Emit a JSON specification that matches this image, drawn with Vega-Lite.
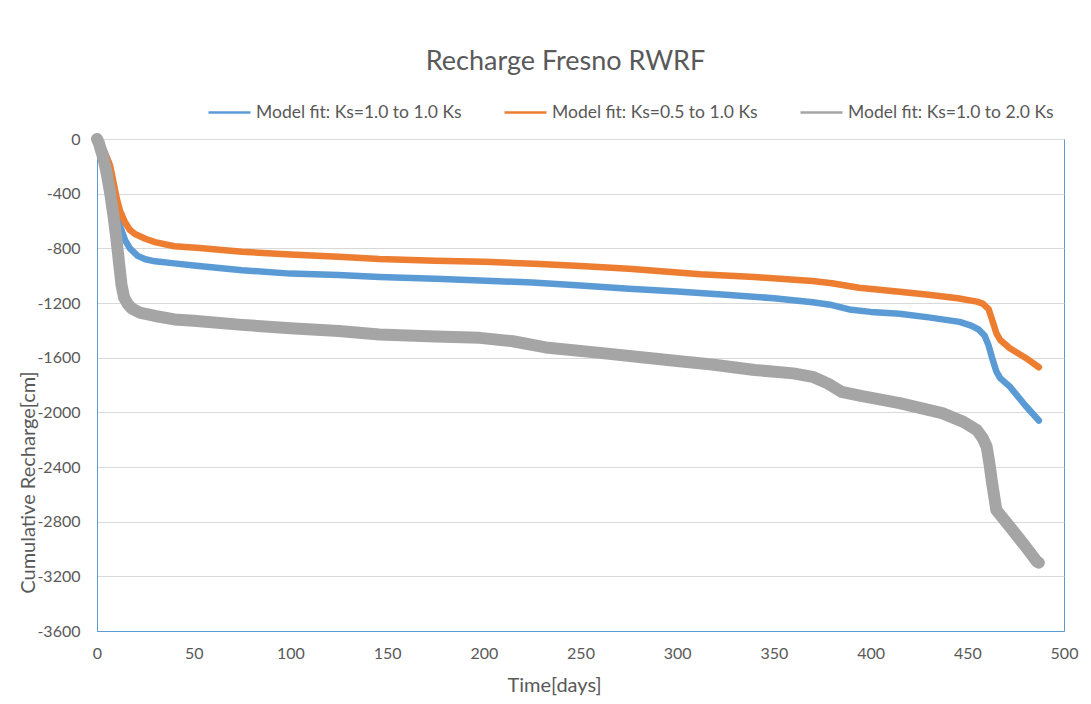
{
  "$schema": "https://vega.github.io/schema/vega-lite/v6.json",
  "width": 967,
  "height": 492,
  "autosize": "none",
  "padding": {"left": 97, "top": 139, "right": 27, "bottom": 73},
  "background": "white",
  "title": {
    "text": "Recharge Fresno RWRF",
    "font": "Lato",
    "fontSize": 27,
    "fontWeight": "normal",
    "color": "#595959",
    "anchor": "middle",
    "dx": -15,
    "offset": 14
  },
  "data": {
    "values": [
      {"s": "Model fit: Ks=1.0 to 1.0 Ks", "t": 0, "v": 0},
      {"s": "Model fit: Ks=1.0 to 1.0 Ks", "t": 2, "v": -40},
      {"s": "Model fit: Ks=1.0 to 1.0 Ks", "t": 4, "v": -100},
      {"s": "Model fit: Ks=1.0 to 1.0 Ks", "t": 6, "v": -170},
      {"s": "Model fit: Ks=1.0 to 1.0 Ks", "t": 8, "v": -300},
      {"s": "Model fit: Ks=1.0 to 1.0 Ks", "t": 10, "v": -480},
      {"s": "Model fit: Ks=1.0 to 1.0 Ks", "t": 11, "v": -555},
      {"s": "Model fit: Ks=1.0 to 1.0 Ks", "t": 12, "v": -640},
      {"s": "Model fit: Ks=1.0 to 1.0 Ks", "t": 14.5, "v": -740},
      {"s": "Model fit: Ks=1.0 to 1.0 Ks", "t": 17, "v": -800},
      {"s": "Model fit: Ks=1.0 to 1.0 Ks", "t": 21, "v": -855},
      {"s": "Model fit: Ks=1.0 to 1.0 Ks", "t": 25, "v": -880},
      {"s": "Model fit: Ks=1.0 to 1.0 Ks", "t": 30, "v": -895},
      {"s": "Model fit: Ks=1.0 to 1.0 Ks", "t": 40, "v": -910},
      {"s": "Model fit: Ks=1.0 to 1.0 Ks", "t": 50, "v": -925},
      {"s": "Model fit: Ks=1.0 to 1.0 Ks", "t": 75, "v": -960},
      {"s": "Model fit: Ks=1.0 to 1.0 Ks", "t": 100, "v": -985},
      {"s": "Model fit: Ks=1.0 to 1.0 Ks", "t": 125, "v": -995},
      {"s": "Model fit: Ks=1.0 to 1.0 Ks", "t": 146, "v": -1010},
      {"s": "Model fit: Ks=1.0 to 1.0 Ks", "t": 175, "v": -1022},
      {"s": "Model fit: Ks=1.0 to 1.0 Ks", "t": 198, "v": -1035},
      {"s": "Model fit: Ks=1.0 to 1.0 Ks", "t": 225, "v": -1050},
      {"s": "Model fit: Ks=1.0 to 1.0 Ks", "t": 250, "v": -1072},
      {"s": "Model fit: Ks=1.0 to 1.0 Ks", "t": 275, "v": -1095},
      {"s": "Model fit: Ks=1.0 to 1.0 Ks", "t": 300, "v": -1115},
      {"s": "Model fit: Ks=1.0 to 1.0 Ks", "t": 325, "v": -1140},
      {"s": "Model fit: Ks=1.0 to 1.0 Ks", "t": 350, "v": -1165},
      {"s": "Model fit: Ks=1.0 to 1.0 Ks", "t": 370, "v": -1195},
      {"s": "Model fit: Ks=1.0 to 1.0 Ks", "t": 380, "v": -1215},
      {"s": "Model fit: Ks=1.0 to 1.0 Ks", "t": 390, "v": -1250},
      {"s": "Model fit: Ks=1.0 to 1.0 Ks", "t": 400, "v": -1265},
      {"s": "Model fit: Ks=1.0 to 1.0 Ks", "t": 415, "v": -1278},
      {"s": "Model fit: Ks=1.0 to 1.0 Ks", "t": 430, "v": -1305},
      {"s": "Model fit: Ks=1.0 to 1.0 Ks", "t": 446, "v": -1338},
      {"s": "Model fit: Ks=1.0 to 1.0 Ks", "t": 452, "v": -1365},
      {"s": "Model fit: Ks=1.0 to 1.0 Ks", "t": 456, "v": -1395},
      {"s": "Model fit: Ks=1.0 to 1.0 Ks", "t": 459, "v": -1440},
      {"s": "Model fit: Ks=1.0 to 1.0 Ks", "t": 461, "v": -1510},
      {"s": "Model fit: Ks=1.0 to 1.0 Ks", "t": 463, "v": -1610},
      {"s": "Model fit: Ks=1.0 to 1.0 Ks", "t": 465, "v": -1700},
      {"s": "Model fit: Ks=1.0 to 1.0 Ks", "t": 467, "v": -1750},
      {"s": "Model fit: Ks=1.0 to 1.0 Ks", "t": 472, "v": -1812},
      {"s": "Model fit: Ks=1.0 to 1.0 Ks", "t": 480, "v": -1950},
      {"s": "Model fit: Ks=1.0 to 1.0 Ks", "t": 487, "v": -2060},
      {"s": "Model fit: Ks=0.5 to 1.0 Ks", "t": 0, "v": 0},
      {"s": "Model fit: Ks=0.5 to 1.0 Ks", "t": 2, "v": -40},
      {"s": "Model fit: Ks=0.5 to 1.0 Ks", "t": 4, "v": -100},
      {"s": "Model fit: Ks=0.5 to 1.0 Ks", "t": 6.7, "v": -190},
      {"s": "Model fit: Ks=0.5 to 1.0 Ks", "t": 8, "v": -280},
      {"s": "Model fit: Ks=0.5 to 1.0 Ks", "t": 10.2, "v": -435},
      {"s": "Model fit: Ks=0.5 to 1.0 Ks", "t": 12, "v": -530},
      {"s": "Model fit: Ks=0.5 to 1.0 Ks", "t": 14.5, "v": -610},
      {"s": "Model fit: Ks=0.5 to 1.0 Ks", "t": 17, "v": -665},
      {"s": "Model fit: Ks=0.5 to 1.0 Ks", "t": 19.6, "v": -695},
      {"s": "Model fit: Ks=0.5 to 1.0 Ks", "t": 25, "v": -730},
      {"s": "Model fit: Ks=0.5 to 1.0 Ks", "t": 30, "v": -755},
      {"s": "Model fit: Ks=0.5 to 1.0 Ks", "t": 40, "v": -785},
      {"s": "Model fit: Ks=0.5 to 1.0 Ks", "t": 53, "v": -798},
      {"s": "Model fit: Ks=0.5 to 1.0 Ks", "t": 75, "v": -825},
      {"s": "Model fit: Ks=0.5 to 1.0 Ks", "t": 100, "v": -845},
      {"s": "Model fit: Ks=0.5 to 1.0 Ks", "t": 125, "v": -862},
      {"s": "Model fit: Ks=0.5 to 1.0 Ks", "t": 146, "v": -878},
      {"s": "Model fit: Ks=0.5 to 1.0 Ks", "t": 175, "v": -890},
      {"s": "Model fit: Ks=0.5 to 1.0 Ks", "t": 200, "v": -898},
      {"s": "Model fit: Ks=0.5 to 1.0 Ks", "t": 229, "v": -915},
      {"s": "Model fit: Ks=0.5 to 1.0 Ks", "t": 250, "v": -930},
      {"s": "Model fit: Ks=0.5 to 1.0 Ks", "t": 275, "v": -950},
      {"s": "Model fit: Ks=0.5 to 1.0 Ks", "t": 312, "v": -990},
      {"s": "Model fit: Ks=0.5 to 1.0 Ks", "t": 340, "v": -1010},
      {"s": "Model fit: Ks=0.5 to 1.0 Ks", "t": 370, "v": -1039},
      {"s": "Model fit: Ks=0.5 to 1.0 Ks", "t": 380, "v": -1055},
      {"s": "Model fit: Ks=0.5 to 1.0 Ks", "t": 394, "v": -1088},
      {"s": "Model fit: Ks=0.5 to 1.0 Ks", "t": 415, "v": -1117},
      {"s": "Model fit: Ks=0.5 to 1.0 Ks", "t": 430, "v": -1140},
      {"s": "Model fit: Ks=0.5 to 1.0 Ks", "t": 445, "v": -1165},
      {"s": "Model fit: Ks=0.5 to 1.0 Ks", "t": 455, "v": -1190},
      {"s": "Model fit: Ks=0.5 to 1.0 Ks", "t": 458, "v": -1205},
      {"s": "Model fit: Ks=0.5 to 1.0 Ks", "t": 461, "v": -1245},
      {"s": "Model fit: Ks=0.5 to 1.0 Ks", "t": 463, "v": -1330},
      {"s": "Model fit: Ks=0.5 to 1.0 Ks", "t": 465, "v": -1420},
      {"s": "Model fit: Ks=0.5 to 1.0 Ks", "t": 467, "v": -1471},
      {"s": "Model fit: Ks=0.5 to 1.0 Ks", "t": 472, "v": -1531},
      {"s": "Model fit: Ks=0.5 to 1.0 Ks", "t": 480, "v": -1600},
      {"s": "Model fit: Ks=0.5 to 1.0 Ks", "t": 487, "v": -1670},
      {"s": "Model fit: Ks=1.0 to 2.0 Ks", "t": 0, "v": 0},
      {"s": "Model fit: Ks=1.0 to 2.0 Ks", "t": 1, "v": -30},
      {"s": "Model fit: Ks=1.0 to 2.0 Ks", "t": 2, "v": -80},
      {"s": "Model fit: Ks=1.0 to 2.0 Ks", "t": 3.3, "v": -140},
      {"s": "Model fit: Ks=1.0 to 2.0 Ks", "t": 5, "v": -250},
      {"s": "Model fit: Ks=1.0 to 2.0 Ks", "t": 6.7, "v": -385},
      {"s": "Model fit: Ks=1.0 to 2.0 Ks", "t": 8.5, "v": -560},
      {"s": "Model fit: Ks=1.0 to 2.0 Ks", "t": 10.2, "v": -750},
      {"s": "Model fit: Ks=1.0 to 2.0 Ks", "t": 11.5, "v": -920},
      {"s": "Model fit: Ks=1.0 to 2.0 Ks", "t": 12.7, "v": -1070},
      {"s": "Model fit: Ks=1.0 to 2.0 Ks", "t": 14, "v": -1160},
      {"s": "Model fit: Ks=1.0 to 2.0 Ks", "t": 16, "v": -1210},
      {"s": "Model fit: Ks=1.0 to 2.0 Ks", "t": 18, "v": -1240},
      {"s": "Model fit: Ks=1.0 to 2.0 Ks", "t": 22, "v": -1270},
      {"s": "Model fit: Ks=1.0 to 2.0 Ks", "t": 30, "v": -1295},
      {"s": "Model fit: Ks=1.0 to 2.0 Ks", "t": 40, "v": -1320},
      {"s": "Model fit: Ks=1.0 to 2.0 Ks", "t": 50, "v": -1330},
      {"s": "Model fit: Ks=1.0 to 2.0 Ks", "t": 75, "v": -1360},
      {"s": "Model fit: Ks=1.0 to 2.0 Ks", "t": 100, "v": -1385},
      {"s": "Model fit: Ks=1.0 to 2.0 Ks", "t": 125, "v": -1405},
      {"s": "Model fit: Ks=1.0 to 2.0 Ks", "t": 146, "v": -1430},
      {"s": "Model fit: Ks=1.0 to 2.0 Ks", "t": 175, "v": -1445},
      {"s": "Model fit: Ks=1.0 to 2.0 Ks", "t": 198, "v": -1455},
      {"s": "Model fit: Ks=1.0 to 2.0 Ks", "t": 215, "v": -1480},
      {"s": "Model fit: Ks=1.0 to 2.0 Ks", "t": 232, "v": -1525},
      {"s": "Model fit: Ks=1.0 to 2.0 Ks", "t": 260, "v": -1565},
      {"s": "Model fit: Ks=1.0 to 2.0 Ks", "t": 284, "v": -1600},
      {"s": "Model fit: Ks=1.0 to 2.0 Ks", "t": 300, "v": -1625},
      {"s": "Model fit: Ks=1.0 to 2.0 Ks", "t": 318, "v": -1650},
      {"s": "Model fit: Ks=1.0 to 2.0 Ks", "t": 340, "v": -1690},
      {"s": "Model fit: Ks=1.0 to 2.0 Ks", "t": 360, "v": -1715},
      {"s": "Model fit: Ks=1.0 to 2.0 Ks", "t": 370, "v": -1740},
      {"s": "Model fit: Ks=1.0 to 2.0 Ks", "t": 378, "v": -1790},
      {"s": "Model fit: Ks=1.0 to 2.0 Ks", "t": 385, "v": -1850},
      {"s": "Model fit: Ks=1.0 to 2.0 Ks", "t": 395, "v": -1880},
      {"s": "Model fit: Ks=1.0 to 2.0 Ks", "t": 415, "v": -1932},
      {"s": "Model fit: Ks=1.0 to 2.0 Ks", "t": 437, "v": -2006},
      {"s": "Model fit: Ks=1.0 to 2.0 Ks", "t": 448, "v": -2070},
      {"s": "Model fit: Ks=1.0 to 2.0 Ks", "t": 455, "v": -2130},
      {"s": "Model fit: Ks=1.0 to 2.0 Ks", "t": 458, "v": -2190},
      {"s": "Model fit: Ks=1.0 to 2.0 Ks", "t": 460, "v": -2251},
      {"s": "Model fit: Ks=1.0 to 2.0 Ks", "t": 461.5, "v": -2380},
      {"s": "Model fit: Ks=1.0 to 2.0 Ks", "t": 462.6, "v": -2495},
      {"s": "Model fit: Ks=1.0 to 2.0 Ks", "t": 465, "v": -2715},
      {"s": "Model fit: Ks=1.0 to 2.0 Ks", "t": 472, "v": -2837},
      {"s": "Model fit: Ks=1.0 to 2.0 Ks", "t": 480, "v": -2980},
      {"s": "Model fit: Ks=1.0 to 2.0 Ks", "t": 486, "v": -3093},
      {"s": "Model fit: Ks=1.0 to 2.0 Ks", "t": 487, "v": -3100}
    ]
  },
  "mark": {"type": "line", "strokeCap": "round", "strokeJoin": "round"},
  "encoding": {
    "x": {
      "field": "t",
      "type": "quantitative",
      "scale": {"domain": [0, 500], "nice": false, "zero": false},
      "axis": {
        "title": "Time[days]",
        "values": [0, 50, 100, 150, 200, 250, 300, 350, 400, 450, 500],
        "grid": false,
        "ticks": false,
        "domainColor": "#5B9BD5",
        "domainWidth": 1,
        "labelFont": "Lato",
        "labelFontSize": 16,
        "labelColor": "#595959",
        "labelPadding": 14,
        "labelFlush": false,
        "titleFont": "Lato",
        "titleFontSize": 20,
        "titleFontWeight": "normal",
        "titleColor": "#595959",
        "titleX": 457,
        "titleY": 54,
        "titleBaseline": "middle"
      }
    },
    "y": {
      "field": "v",
      "type": "quantitative",
      "scale": {"domain": [-3600, 0], "nice": false, "zero": false},
      "axis": {
        "title": "Cumulative Recharge[cm]",
        "values": [0, -400, -800, -1200, -1600, -2000, -2400, -2800, -3200, -3600],
        "labelExpr": "'' + datum.value",
        "grid": true,
        "gridColor": "#D9D9D9",
        "gridWidth": 1,
        "ticks": false,
        "domainColor": "#5B9BD5",
        "domainWidth": 1,
        "labelFont": "Lato",
        "labelFontSize": 16,
        "labelColor": "#595959",
        "labelPadding": 17,
        "labelFlush": false,
        "titleFont": "Lato",
        "titleFontSize": 20,
        "titleFontWeight": "normal",
        "titleColor": "#595959",
        "titleX": -69,
        "titleY": 343,
        "titleAlign": "center",
        "titleBaseline": "middle"
      }
    },
    "color": {
      "field": "s",
      "type": "nominal",
      "scale": {
        "domain": ["Model fit: Ks=1.0 to 1.0 Ks", "Model fit: Ks=0.5 to 1.0 Ks", "Model fit: Ks=1.0 to 2.0 Ks"],
        "range": ["#5B9BD5", "#ED7D31", "#A5A5A5"]
      },
      "legend": {
        "title": null,
        "orient": "none",
        "direction": "horizontal",
        "legendX": 110,
        "legendY": -49,
        "symbolType": "stroke",
        "symbolSize": 1764,
        "symbolStrokeWidth": 2.5,
        "labelFont": "Lato",
        "labelFontSize": 17.5,
        "labelColor": "#595959",
        "labelOffset": 4,
        "labelLimit": 400,
        "columnPadding": 37
      }
    },
    "strokeWidth": {
      "condition": {"test": "datum.s === 'Model fit: Ks=1.0 to 2.0 Ks'", "value": 12},
      "value": 6.5
    }
  },
  "config": {
    "view": {"stroke": "#5B9BD5", "strokeWidth": 1}
  }
}
